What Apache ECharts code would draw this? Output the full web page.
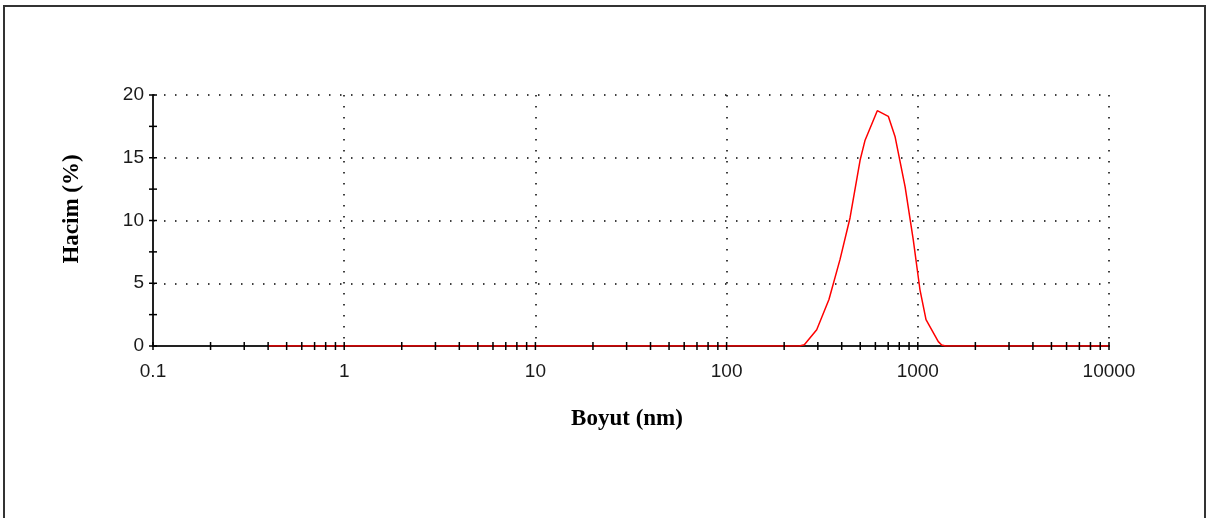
<!DOCTYPE html>
<html>
<head>
<meta charset="utf-8">
<title>Boyut dağılımı</title>
<script src="https://cdn.jsdelivr.net/npm/echarts@6/dist/echarts.min.js"></script>
<style>
  html, body { margin: 0; padding: 0; background: #fff; }
  #chart { width: 1211px; height: 518px; }
</style>
</head>
<body>
<div id="chart"></div>
<script>
// particle size (nm) and volume (%)
const sizes = [0.4, 240, 255, 296, 343, 392, 442, 499, 530, 614, 701, 760, 858, 947, 1026, 1104, 1280, 1333, 1400, 10000];
const volume = [0, 0, 0.1, 1.3, 3.7, 6.9, 10.2, 14.8, 16.4, 18.75, 18.3, 16.7, 12.7, 8.45, 4.5, 2.1, 0.35, 0.08, 0, 0];

// tick marks (they cross the axis lines)
const xTicks = [0.1, 0.2, 0.3, 0.4, 0.5, 0.6, 0.7, 0.8, 0.9,
  1, 2, 3, 4, 5, 6, 7, 8, 9,
  10, 20, 30, 40, 50, 60, 70, 80, 90,
  100, 200, 300, 400, 500, 600, 700, 800, 900,
  1000, 2000, 3000, 4000, 5000, 6000, 7000, 8000, 9000, 10000];
const yTicks = [0, 2.5, 5, 7.5, 10, 12.5, 15, 17.5, 20];

const chart = echarts.init(document.getElementById('chart'), null, { renderer: 'canvas' });

const dotted = { color: '#000', width: 1.5, type: [1.5, 9.5] };
const labelFont = { fontFamily: 'Liberation Sans, Arial, sans-serif', fontSize: 19, color: '#1a1a1a' };
const titleFont = { fontFamily: 'Liberation Serif, Times New Roman, serif', fontSize: 23, fontWeight: 'bold', fill: '#000' };

chart.setOption({
  animation: false,
  backgroundColor: '#fff',
  grid: { left: 153, right: 102, top: 95, bottom: 172 },
  xAxis: {
    type: 'log',
    logBase: 10,
    min: 0.1,
    max: 10000,
    axisLine: { lineStyle: { color: '#222', width: 2 } },
    axisTick: { show: false },
    axisLabel: Object.assign({ margin: 16, formatter: v => String(v) }, labelFont),
    splitLine: { show: true, lineStyle: dotted }
  },
  yAxis: {
    type: 'value',
    min: 0,
    max: 20,
    interval: 5,
    axisLine: { show: true, lineStyle: { color: '#222', width: 2 } },
    axisTick: { show: false },
    axisLabel: Object.assign({ margin: 9 }, labelFont),
    splitLine: { show: true, lineStyle: dotted }
  },
  graphic: [
    {
      type: 'rect',
      shape: { x: 4, y: 6, width: 1201, height: 530 },
      style: { fill: null, stroke: '#333', lineWidth: 2 },
      silent: true
    },
    {
      type: 'text',
      x: 72, y: 209,
      rotation: Math.PI / 2,
      style: Object.assign({ text: 'Hacim (%)', align: 'center', verticalAlign: 'middle' }, titleFont)
    },
    {
      type: 'text',
      x: 627, y: 419,
      style: Object.assign({ text: 'Boyut (nm)', align: 'center', verticalAlign: 'middle' }, titleFont)
    }
  ],
  series: [
    {
      type: 'line',
      data: sizes.map((s, i) => [s, volume[i]]),
      showSymbol: false,
      symbol: 'none',
      lineStyle: { color: '#ff0000', width: 1.5 },
      z: 3
    },
    {
      type: 'custom',
      silent: true,
      z: 4,
      data: xTicks.map(t => [t, 0]),
      renderItem: (params, api) => {
        const p = api.coord([api.value(0), api.value(1)]);
        return {
          type: 'line',
          shape: { x1: p[0], y1: p[1] - 4, x2: p[0], y2: p[1] + 4 },
          style: { stroke: '#000', lineWidth: 1.5 }
        };
      }
    },
    {
      type: 'custom',
      silent: true,
      z: 4,
      data: yTicks.map(t => [0.1, t]),
      renderItem: (params, api) => {
        const p = api.coord([api.value(0), api.value(1)]);
        return {
          type: 'line',
          shape: { x1: p[0] - 4, y1: p[1], x2: p[0] + 4, y2: p[1] },
          style: { stroke: '#000', lineWidth: 1.5 }
        };
      }
    }
  ]
});
</script>
</body>
</html>
